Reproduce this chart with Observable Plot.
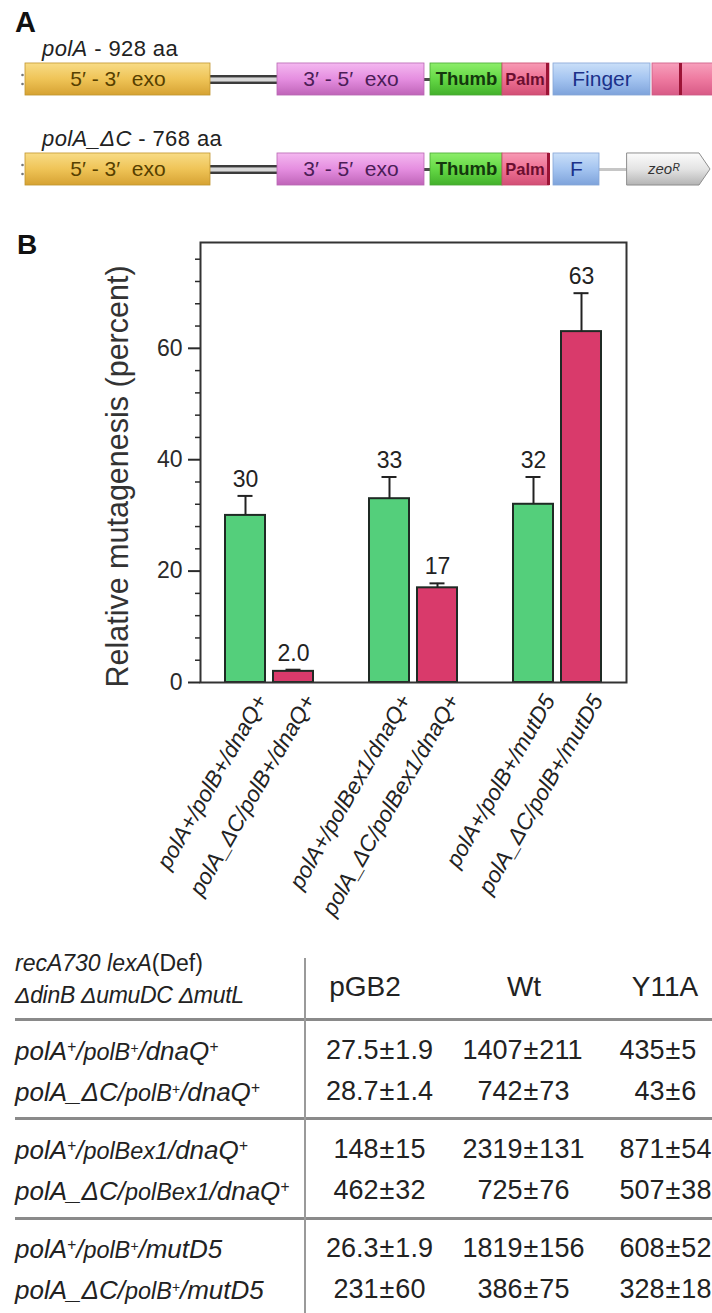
<!DOCTYPE html>
<html>
<head>
<meta charset="utf-8">
<script src="https://cdn.jsdelivr.net/npm/d3@7"></script>
<script src="https://cdn.jsdelivr.net/npm/@observablehq/plot@0.6"></script>
<style>
  html, body { margin: 0; padding: 0; background: #fff; }
  body { width: 712px; height: 1313px; overflow: hidden; position: relative;
         font-family: "Liberation Sans", Arial, Helvetica, sans-serif; color: #222; }
  .abs { position: absolute; white-space: nowrap; line-height: 1; }
  .fig { position: absolute; left: 0; }
  sup.p { font-size: 0.6em; vertical-align: 0.5em; line-height: 0; }
  .hr { position: absolute; background: #8a8a8a; }
  .num { position: absolute; width: 0; height: 0; line-height: 1; white-space: nowrap; }
  .num span { position: absolute; top: 0; }
</style>
</head>
<body>
<script>
const FONT = '"Liberation Sans", Arial, Helvetica, sans-serif';

// ---------- Panel A: domain maps of Pol I and the C-terminal truncation ----------
const tracks = ["polA", "polA_ΔC"];
const trackLength = [928, 768];

const segTrack = [0, 0, 0, 0, 0, 0, 1, 1, 1, 1, 1];
const segKind  = ["exo53", "exo35", "thumb", "palm", "finger", "tail",
                  "exo53", "exo35", "thumb", "palm", "finger"];
const segLabel = ["5′ - 3′\u00a0\u00a0exo", "3′ - 5′\u00a0\u00a0exo", "Thumb", "Palm", "Finger", "",
                  "5′ - 3′\u00a0\u00a0exo", "3′ - 5′\u00a0\u00a0exo", "Thumb", "Palm", "F"];
const segStart = [25, 277, 430, 502, 553, 652, 25, 277, 430, 502, 553];
const segEnd   = [210, 424, 502, 549, 650, 730, 210, 424, 502, 549, 599];

const linkTrack = [0, 0, 1, 1, 1];
const linkKind  = ["hinge", "stub", "hinge", "stub", "spacer"];
const linkStart = [210, 424, 210, 424, 599];
const linkEnd   = [277, 430, 277, 430, 627];

const stripeTrack = [0, 0, 1];
const stripePos   = [547, 680, 548];

const cassetteTrack = [1];
const cassetteName  = ["zeoᴿ"];
const cassetteStart = [627];
const cassetteEnd   = [710];

// ---------- Panel B: relative mutagenesis ----------
const genotypes = [
  "polA⁺/polB⁺/dnaQ⁺",
  "polA_ΔC/polB⁺/dnaQ⁺",
  "polA⁺/polBex1/dnaQ⁺",
  "polA_ΔC/polBex1/dnaQ⁺",
  "polA⁺/polB⁺/mutD5",
  "polA_ΔC/polB⁺/mutD5"
];
const mutagenesis    = [30, 2.0, 33, 17, 32, 63];
const mutagenesisErr = [3.5, 0.3, 3.9, 0.8, 4.9, 6.9];
const yTitle = "Relative mutagenesis (percent)";
const majorTicks = [0, 20, 40, 60];

// ---------- Table: mutant frequencies ----------
const plasmids = ["pGB2", "Wt", "Y11A"];
const pGB2Mean = [27.5, 28.7, 148, 462, 26.3, 231];
const pGB2Err  = [1.9, 1.4, 15, 32, 1.9, 60];
const wtMean   = [1407, 742, 2319, 725, 1819, 386];
const wtErr    = [211, 73, 131, 76, 156, 75];
const y11aMean = [435, 43, 871, 507, 608, 328];
const y11aErr  = [5, 6, 54, 38, 52, 18];

// ---------- helpers ----------
function place(html, left, baseline, size, css = "") {
  const el = document.createElement("div");
  el.className = "abs";
  el.style.cssText = `left:${left}px; top:${baseline - 0.8465 * size}px; font-size:${size}px; ${css}`;
  el.innerHTML = html;
  document.body.appendChild(el);
  return el;
}
function supPlus(s) { return s.replace(/⁺/g, '<sup class="p">+</sup>'); }

// ---------- Panel A ----------
const H = 0.178;   // half height of a domain box (track units)
const TIP = 11;    // arrow-head length of the resistance cassette
const gradients = {
  exo53:  ["#f8dc86", "#efc457", "#d6a233"],
  exo35:  ["#f4b8f0", "#e58ee0", "#bf64b8"],
  thumb:  ["#8cee6a", "#64d845", "#43b02b"],
  palm:   ["#f79ab4", "#ee7094", "#d24f75"],
  finger: ["#cadff8", "#a4c4f0", "#7ea3db"],
  tail:   ["#f7a0bc", "#ee7aa0", "#d85a86"],
  zeo:    ["#fcfcfc", "#e4e4e4", "#b4b4b4"]
};
const edge = {exo53: "#c1952e", exo35: "#b866b2", thumb: "#4aa836", palm: "#c84a6e",
              finger: "#86a6d6", tail: "#cc5a84"};
const ink = {exo53: "#574000", exo35: "#4b1d57", thumb: "#14380d", palm: "#6b0e30",
             finger: "#1b318a"};

function gradientDefs() {
  const defs = d3.create("svg:defs");
  for (const [id, stops] of Object.entries(gradients)) {
    const g = defs.append("linearGradient").attr("id", "grad-" + id)
      .attr("x1", 0).attr("y1", 0).attr("x2", 0).attr("y2", 1);
    stops.forEach((c, i) => g.append("stop")
      .attr("offset", i / (stops.length - 1)).attr("stop-color", c));
  }
  return defs.node();
}

const segments = segKind.map((kind, i) => ({
  track: segTrack[i], kind, label: segLabel[i], start: segStart[i], end: segEnd[i]
}));
const links = linkKind.map((kind, i) => ({
  track: linkTrack[i], kind, start: linkStart[i], end: linkEnd[i]
}));
const stripes = stripePos.map((pos, i) => ({track: stripeTrack[i], pos}));
const cassettes = cassetteName.map((name, i) => ({
  track: cassetteTrack[i], name, start: cassetteStart[i], end: cassetteEnd[i]
}));
const arrowPts = cassettes.flatMap(c => [
  {x: c.start, y1: c.track - H, y2: c.track + H},
  {x: c.end - TIP, y1: c.track - H, y2: c.track + H},
  {x: c.end, y1: c.track, y2: c.track}
]);
const leaders = tracks.flatMap((_, t) => [-0.05, 0.05].map(o => ({
  x: segStart[segTrack.indexOf(t)] - 3, y: t + o
})));
const boldKinds = new Set(["thumb", "palm"]);

const figA = Plot.plot({
  width: 712, height: 200, margin: 0,
  style: {background: "transparent", fontFamily: FONT, overflow: "visible"},
  x: {domain: [0, 712], range: [0, 712], axis: null},
  y: {domain: [-79 / 90, 121 / 90], range: [0, 200], axis: null},
  color: {type: "identity"},
  marks: [
    gradientDefs,
    Plot.dot(leaders, {x: "x", y: "y", r: 1.3, fill: "#777"}),
    Plot.ruleY(links.filter(d => d.kind === "hinge"),
      {x1: "start", x2: "end", y: "track", stroke: "#d8d8d8", strokeWidth: 4}),
    Plot.ruleY(links.filter(d => d.kind === "hinge"),
      {x1: "start", x2: "end", y: d => d.track - 0.036, stroke: "#3c3c3c", strokeWidth: 2.3}),
    Plot.ruleY(links.filter(d => d.kind === "hinge"),
      {x1: "start", x2: "end", y: d => d.track + 0.036, stroke: "#3c3c3c", strokeWidth: 2.3}),
    Plot.ruleY(links.filter(d => d.kind === "stub"),
      {x1: "start", x2: "end", y: "track", stroke: "#4a4a4a", strokeWidth: 3}),
    Plot.ruleY(links.filter(d => d.kind === "spacer"),
      {x1: "start", x2: "end", y: "track", stroke: "#c6c6c6", strokeWidth: 3}),
    Plot.rect(segments, {
      x1: "start", x2: "end", y1: d => d.track - H, y2: d => d.track + H,
      fill: d => `url(#grad-${d.kind})`, stroke: d => edge[d.kind], strokeWidth: 0.8
    }),
    Plot.ruleX(stripes, {x: "pos", y1: d => d.track - H, y2: d => d.track + H,
      stroke: "#9c1436", strokeWidth: 3}),
    Plot.areaY(arrowPts, {x: "x", y1: "y1", y2: "y2", curve: "linear",
      fill: "url(#grad-zeo)", stroke: "#8e8e8e", strokeWidth: 1}),
    Plot.text(segments.filter(d => d.label && !boldKinds.has(d.kind)), {
      x: d => (d.start + d.end) / 2, y: "track", text: "label",
      fill: d => ink[d.kind], fontSize: 21
    }),
    Plot.text(segments.filter(d => d.kind === "thumb"), {
      x: d => (d.start + d.end) / 2, y: "track", text: "label",
      fill: d => ink[d.kind], fontSize: 18.5, fontWeight: "bold"
    }),
    Plot.text(segments.filter(d => d.kind === "palm"), {
      x: d => (d.start + d.end) / 2 - 1, y: "track", text: "label",
      fill: d => ink[d.kind], fontSize: 16.5, fontWeight: "bold"
    }),
    Plot.text(cassettes, {
      x: d => (d.start + d.end - TIP) / 2, y: "track", text: "name",
      fontStyle: "italic", fontSize: 15, fill: "#333"
    })
  ]
});
figA.classList.add("fig");
figA.style.top = "0px";
document.body.appendChild(figA);

// Track titles sit just above each domain map
const yA = figA.scale("y");
tracks.forEach((name, t) => {
  place(`<i>${name}</i> - ${trackLength[t]} aa`, 42, yA.apply(t) - H * 90 - 6, 22,
        "letter-spacing:0.4px; color:#222");
});
place("A", 15, 33, 29, "font-weight:bold; color:#111");

// ---------- Panel B ----------
const rows = genotypes.map((g, i) => ({
  genotype: g, allele: g.split("/")[0], value: mutagenesis[i], err: mutagenesisErr[i]
}));
// blank slots separate the three pairs of strains
const xDomain = genotypes.flatMap((g, i) => (i > 0 && i % 2 === 0) ? [" ".repeat(i / 2), g] : [g]);
const minorTicks = d3.range(0, 80, 4).filter(v => v % 20 !== 0);
const fmt = v => v < 10 ? v.toFixed(1) : v.toFixed(0);

const figB = Plot.plot({
  width: 712, height: 750,
  marginLeft: 200, marginRight: 86, marginTop: 42, marginBottom: 268,
  style: {background: "transparent", fontFamily: FONT, color: "#2a2a2a", overflow: "visible"},
  x: {type: "band", domain: xDomain, paddingInner: 0.17, paddingOuter: 0.51, axis: null},
  y: {domain: [0, 79], label: null},
  color: {domain: ["polA⁺", "polA_ΔC"], range: ["#54cf7b", "#d93a6b"]},
  marks: [
    Plot.barY(rows, {x: "genotype", y: "value", fill: "allele", stroke: "#1f2a24", strokeWidth: 2}),
    Plot.ruleX(rows, {x: "genotype", y1: "value", y2: d => d.value + d.err, stroke: "#222", strokeWidth: 2}),
    Plot.tickY(rows, {x: "genotype", y: d => d.value + d.err, stroke: "#222", strokeWidth: 2,
      insetLeft: 12.5, insetRight: 12.5}),
    Plot.text(rows, {x: "genotype", y: d => d.value + d.err, text: d => fmt(d.value),
      dy: -9, lineAnchor: "bottom", fontSize: 23, fill: "#222"}),
    Plot.frame({stroke: "#333", strokeWidth: 2}),
    Plot.axisY(minorTicks, {tickSize: 5, tickFormat: () => "", label: null, strokeWidth: 1.5}),
    Plot.axisY(majorTicks, {tickSize: 12, tickPadding: 6, fontSize: 23, label: null, strokeWidth: 2}),
    Plot.text(rows, {x: "genotype", y: () => 0, text: d => d.genotype.replace(/⁺/g, "+"), rotate: -60,
      textAnchor: "end", dx: 16, dy: 14, fontSize: 22.5, fontStyle: "italic", fill: "#222"}),
    Plot.text([yTitle], {frameAnchor: "left", textAnchor: "middle", rotate: -90,
      dx: -82, dy: 14, fontSize: 30.5, fill: "#333"})
  ]
});
figB.classList.add("fig");
figB.style.top = "200px";
document.body.appendChild(figB);
place("B", 17, 255, 28, "font-weight:bold; color:#111");

// ---------- Table ----------
const cols = [
  {name: plasmids[0], mean: pGB2Mean, err: pGB2Err, pm: 387, head: 365},
  {name: plasmids[1], mean: wtMean, err: wtErr, pm: 531, head: 524},
  {name: plasmids[2], mean: y11aMean, err: y11aErr, pm: 673, head: 665}
];
const rowBase = [1060, 1101, 1159, 1200, 1258, 1299];
const rules = [1019, 1118, 1218];

// header
place("<i>recA730 lexA</i>(Def)", 15, 971, 23, "color:#222");
place("<i>ΔdinB ΔumuDC ΔmutL</i>", 15, 1003, 23, "color:#222; letter-spacing:-0.3px");
cols.forEach(c => {
  const el = place(c.name, c.head, 997, 28, "color:#222");
  el.style.transform = "translateX(-50%)";
});

// rules
rules.forEach(y => {
  const r = document.createElement("div");
  r.className = "hr";
  r.style.cssText = `left:15px; width:697px; top:${y - 1.5}px; height:3px;`;
  document.body.appendChild(r);
});
const v = document.createElement("div");
v.className = "hr";
v.style.cssText = "left:304px; width:2px; top:958px; height:355px; background:#9a9a9a";
document.body.appendChild(v);

// strain labels
genotypes.forEach((g, i) => {
  const parts = g.split("/").map(supPlus);
  const html = `<i>${parts[0]}/<span style="font-size:0.9em">${parts[1]}</span>/${parts[2]}</i>`;
  place(html, 15, rowBase[i], 26, "color:#222");
});

// values, aligned on the ± sign
cols.forEach(c => {
  c.mean.forEach((m, i) => {
    const size = 27;
    const el = document.createElement("div");
    el.className = "num";
    el.style.cssText = `left:${c.pm}px; top:${rowBase[i] - 0.8465 * size}px; font-size:${size}px; color:#222`;
    el.innerHTML =
      `<span style="right:0.31em">${m}</span>` +
      `<span style="left:0; transform:translateX(-50%)">±</span>` +
      `<span style="left:0.31em">${c.err[i]}</span>`;
    document.body.appendChild(el);
  });
});
</script>
</body>
</html>
